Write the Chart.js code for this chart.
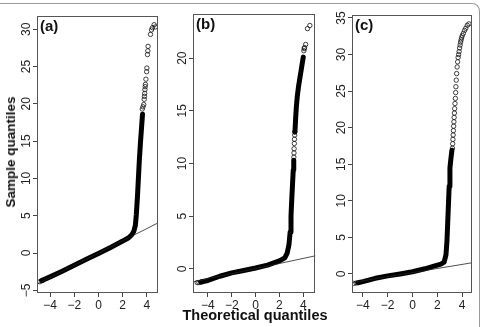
<!DOCTYPE html>
<html>
<head>
<meta charset="utf-8">
<script src="https://cdn.jsdelivr.net/npm/chart.js@4.4.1/dist/chart.umd.min.js"></script>
<style>
  html, body { margin: 0; padding: 0; background: #fff; }
  #wrap { position: relative; width: 481px; height: 327px; overflow: hidden; font-family: "Liberation Sans", Arial, sans-serif; color: #111; }
  #wrap canvas { position: absolute; top: 0; }
  .frame { position: absolute; left: -20px; top: 3px; width: 499px; height: 360px; border-top: 1px solid #9a9a9a; border-right: 1px solid #9a9a9a; border-top-right-radius: 8px; }
  .ytitle { position: absolute; left: 11px; top: 152px; transform: translate(-50%, -50%) rotate(-90deg); font-weight: bold; font-size: 13.5px; line-height: 14px; white-space: nowrap; }
  .xtitle { position: absolute; left: 255px; top: 315px; transform: translate(-50%, -50%); font-weight: bold; font-size: 14.5px; white-space: nowrap; }
</style>
</head>
<body>
<div id="wrap">
  <div class="frame"></div>
  <canvas id="qqA" width="165" height="312" style="left:0px"></canvas>
  <canvas id="qqB" width="160" height="312" style="left:160px"></canvas>
  <canvas id="qqC" width="161" height="312" style="left:320px"></canvas>
  <div class="ytitle">Sample quantiles</div>
  <div class="xtitle">Theoretical quantiles</div>
</div>
<script>
// shared x ticks (theoretical quantiles)
const xTicks = [-4, -2, 0, 2, 4];

// (a)
const aYTicks = [-5, 0, 5, 10, 15, 20, 25, 30];
const aBodyX = [-4.7, -4.0, -3.0, -2.0, -1.0, 0.0, 1.0, 2.0, 2.5, 2.75, 2.92, 3.05, 3.13, 3.22, 3.3, 3.38, 3.47, 3.56, 3.64];
const aBodyY = [-3.7, -3.2, -2.45, -1.65, -0.85, -0.05, 0.75, 1.6, 2.05, 2.45, 2.9, 3.7, 5.2, 7.5, 10.0, 12.5, 14.8, 16.8, 18.6];
const aPtX = [-4.85, -4.62, 3.62, 3.68, 3.74, 3.78, 3.8, 3.82, 3.84, 3.86, 3.88, 3.92, 3.98, 4.0, 4.05, 4.08, 4.1, 4.3, 4.38, 4.46, 4.6, 4.7];
const aPtY = [-3.85, -3.68, 19.3, 19.6, 19.9, 20.6, 21.0, 21.4, 21.9, 22.3, 22.6, 23.3, 24.3, 24.8, 26.6, 27.1, 27.7, 29.3, 29.9, 30.2, 30.6, 30.3];
const aRefX = [-5.2, 5.0];
const aRefY = [-4.26, 4.1];

// (b)
const bYTicks = [0, 5, 10, 15, 20];
const bBody1X = [-4.6, -4.0, -3.0, -2.0, -1.0, 0.0, 1.0, 2.0, 2.45, 2.65, 2.8, 2.9, 2.97, 3.03, 3.1, 3.16, 3.2];
const bBody1Y = [-1.25, -1.1, -0.7, -0.38, -0.15, 0.08, 0.35, 0.75, 1.05, 1.5, 2.3, 3.5, 5.0, 6.5, 8.1, 9.4, 10.3];
const bBody2X = [3.3, 3.36, 3.42, 3.5, 3.6, 3.7, 3.8, 3.9, 4.0];
const bBody2Y = [13.0, 14.3, 15.4, 16.4, 17.3, 18.0, 18.7, 19.4, 20.1];
const bPtX = [-4.9, -4.75, -4.55, 3.21, 3.22, 3.23, 3.25, 3.26, 3.28, 3.29, 4.05, 4.08, 4.1, 4.2, 4.35, 4.55];
const bPtY = [-1.3, -1.3, -1.25, 10.6, 11.0, 11.4, 11.9, 12.3, 12.7, 13.0, 20.7, 20.9, 21.0, 21.3, 22.8, 23.1];
const bRefX = [-5.3, 5.1];
const bRefY = [-1.25, 1.26];

// (c)
const cYTicks = [0, 5, 10, 15, 20, 25, 30, 35];
const cBodyX = [-4.4, -4.0, -3.0, -2.0, -1.0, 0.0, 1.0, 1.8, 2.3, 2.55, 2.7, 2.78, 2.84, 2.9, 2.96, 3.02, 3.1, 3.18];
const cBodyY = [-1.2, -1.05, -0.6, -0.27, 0.0, 0.3, 0.7, 1.1, 1.35, 1.6, 2.6, 4.5, 7.0, 9.5, 12.0, 14.5, 15.8, 16.9];
const cPtX = [-4.75, -4.55, 3.22, 3.24, 3.26, 3.28, 3.3, 3.32, 3.34, 3.36, 3.38, 3.4, 3.43, 3.46, 3.48, 3.5, 3.53, 3.56, 3.6, 3.64, 3.68, 3.72, 3.76, 3.8, 3.84, 3.88, 3.92, 3.96, 4.02, 4.1, 4.2, 4.3, 4.42, 4.55];
const cPtY = [-1.3, -1.25, 17.2, 17.8, 18.4, 19.0, 19.6, 20.2, 20.8, 21.4, 22.0, 22.6, 23.3, 24.0, 24.8, 25.6, 26.5, 27.4, 28.3, 29.0, 29.6, 30.0, 30.4, 30.9, 31.3, 31.7, 32.0, 32.3, 32.6, 32.9, 33.3, 33.6, 34.0, 34.2];
const cRefX = [-5.0, 5.0];
const cRefY = [-1.22, 1.58];

const FONT = '"Liberation Sans", Arial, sans-serif';

function tickText(v) { return v < 0 ? '\u2212' + Math.abs(v) : String(v); }
function pts(xs, ys) { return xs.map((x, i) => ({ x: x, y: ys[i] })); }

// box, rotated y labels and panel tag (R style)
function boxPlugin(tag, yTicks) {
  return {
    id: 'qqBox',
    afterDraw(chart) {
      const { ctx, chartArea: a, scales } = chart;
      ctx.save();
      ctx.strokeStyle = '#555';
      ctx.lineWidth = 1;
      ctx.strokeRect(Math.round(a.left) + 0.5, Math.round(a.top) + 0.5, Math.round(a.right - a.left) - 1, Math.round(a.bottom - a.top) - 1);
      ctx.fillStyle = '#222';
      ctx.font = '12px ' + FONT;
      ctx.textAlign = 'center';
      ctx.textBaseline = 'middle';
      yTicks.forEach(v => {
        const y = scales.y.getPixelForValue(v);
        ctx.save();
        ctx.translate(a.left - 10, y);
        ctx.rotate(-Math.PI / 2);
        ctx.fillText(tickText(v), 0, 0);
        ctx.restore();
      });
      ctx.fillStyle = '#111';
      ctx.font = 'bold 15px ' + FONT;
      ctx.textAlign = 'left';
      ctx.textBaseline = 'top';
      ctx.fillText(tag, a.left + 3, a.top + 3);
      ctx.restore();
    }
  };
}

function makePanel(id, p) {
  const tickGrid = { drawOnChartArea: false, drawTicks: true, tickLength: 4, color: '#444', lineWidth: 1 };
  const datasets = [
    { data: pts(p.refX, p.refY), showLine: true, borderColor: '#222', borderWidth: 0.8, pointRadius: 0 }
  ];
  p.bodies.forEach(b => datasets.push({
    data: pts(b[0], b[1]), showLine: true, borderColor: '#000', borderWidth: 5, pointRadius: 0,
    borderCapStyle: 'round', borderJoinStyle: 'round', tension: 0
  }));
  datasets.push({
    data: pts(p.ptX, p.ptY), pointStyle: 'circle', pointRadius: 2.2, pointBorderWidth: 0.8,
    borderColor: '#111', backgroundColor: 'rgba(0,0,0,0)'
  });

  return new Chart(document.getElementById(id), {
    type: 'scatter',
    data: { datasets },
    plugins: [boxPlugin(p.tag, p.yTicks)],
    options: {
      responsive: false,
      animation: false,
      devicePixelRatio: 1,
      layout: { padding: { top: p.top, right: p.right, left: 0, bottom: 0 } },
      plugins: { legend: { display: false }, tooltip: { enabled: false } },
      scales: {
        x: {
          type: 'linear', min: p.xMin, max: p.xMax,
          afterBuildTicks: s => { s.ticks = xTicks.map(v => ({ value: v })); },
          afterFit: s => { s.height = 19; },
          grid: tickGrid, border: { display: false },
          ticks: { callback: v => tickText(v), color: '#222', font: { size: 12, family: FONT }, padding: 1, maxRotation: 0, autoSkip: false }
        },
        y: {
          type: 'linear', min: p.yMin, max: p.yMax,
          afterBuildTicks: s => { s.ticks = p.yTicks.map(v => ({ value: v })); },
          afterFit: s => { s.width = p.left; },
          grid: tickGrid, border: { display: false },
          ticks: { display: false }
        }
      }
    }
  });
}

makePanel('qqA', {
  tag: '(a)', yTicks: aYTicks, left: 37, right: 7, top: 16,
  xMin: -5.08, xMax: 4.92, yMin: -5.36, yMax: 31.77,
  refX: aRefX, refY: aRefY, bodies: [[aBodyX, aBodyY]], ptX: aPtX, ptY: aPtY
});
makePanel('qqB', {
  tag: '(b)', yTicks: bYTicks, left: 33, right: 4, top: 14,
  xMin: -5.25, xMax: 5.0, yMin: -2.29, yMax: 24.19,
  refX: bRefX, refY: bRefY, bodies: [[bBody1X, bBody1Y], [bBody2X, bBody2Y]], ptX: bPtX, ptY: bPtY
});
makePanel('qqC', {
  tag: '(c)', yTicks: cYTicks, left: 32, right: 9, top: 15,
  xMin: -4.88, xMax: 4.8, yMin: -2.61, yMax: 35.41,
  refX: cRefX, refY: cRefY, bodies: [[cBodyX, cBodyY]], ptX: cPtX, ptY: cPtY
});
</script>
</body>
</html>
